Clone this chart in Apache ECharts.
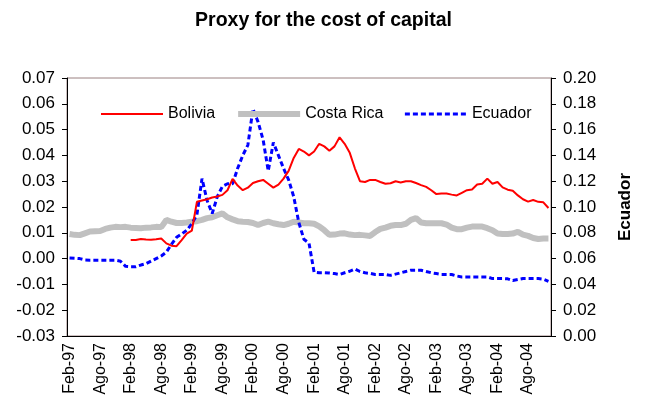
<!DOCTYPE html>
<html>
<head>
<meta charset="utf-8">
<script src="https://cdn.jsdelivr.net/npm/echarts@6/dist/echarts.min.js"></script>
<style>
html, body { margin: 0; padding: 0; background: #fff; }
#chart { width: 647px; height: 414px; }
</style>
</head>
<body>
<div id="chart"></div>
<script>
// monthly labels, Feb-97 .. Dic-04
const monthNames = ['Ene','Feb','Mar','Abr','May','Jun','Jul','Ago','Sep','Oct','Nov','Dic'];
const months = [];
for (let y = 1997; y <= 2004; y++) {
    for (let m = 0; m < 12; m++) {
        if (y === 1997 && m === 0) continue;
        months.push(monthNames[m] + '-' + String(y).slice(2));
    }
}

const leftTicks = [-0.03, 0.07, 0.01];
const rightTicks = [0, 0.20, 0.02];

const bolivia = [
    '-', '-', '-', '-', '-', '-', '-', '-', '-', '-', '-',
    '-', 0.0072, 0.0072, 0.0076, 0.0074, 0.0073, 0.0075, 0.0078, 0.0059, 0.0050, 0.0048, 0.0072,
    0.0097, 0.0108, 0.0220, 0.0225, 0.0230, 0.0237, 0.0241, 0.0247, 0.0265, 0.0309, 0.0283, 0.0265,
    0.0275, 0.0293, 0.0300, 0.0305, 0.0290, 0.0275, 0.0287, 0.0310, 0.0340, 0.0390, 0.0425, 0.0415,
    0.0400, 0.0415, 0.0445, 0.0435, 0.0418, 0.0435, 0.0470, 0.0445, 0.0410, 0.0350, 0.0300, 0.0297,
    0.0305, 0.0305, 0.0297, 0.0290, 0.0292, 0.0300, 0.0295, 0.0300, 0.0300, 0.0293, 0.0285, 0.0278,
    0.0265, 0.0250, 0.0252, 0.0252, 0.0248, 0.0245, 0.0255, 0.0265, 0.0268, 0.0287, 0.0290, 0.0310,
    0.0290, 0.0297, 0.0276, 0.0267, 0.0263, 0.0245, 0.0230, 0.0221, 0.0227, 0.0220, 0.0218, 0.0196
];

const costaRica = [
    0.0095, 0.0092, 0.0091, 0.0098, 0.0105, 0.0106, 0.0107, 0.0115, 0.0120, 0.0123, 0.0122,
    0.0123, 0.0120, 0.0119, 0.0118, 0.0120, 0.0121, 0.0123, 0.0122, 0.0150, 0.0143, 0.0138, 0.0138,
    0.0140, 0.0143, 0.0145, 0.0150, 0.0157, 0.0160, 0.0168, 0.0175, 0.0160, 0.0152, 0.0145, 0.0143,
    0.0142, 0.0138, 0.0130, 0.0138, 0.0143, 0.0137, 0.0133, 0.0130, 0.0135, 0.0143, 0.0140, 0.0137,
    0.0137, 0.0135, 0.0125, 0.0110, 0.0092, 0.0093, 0.0097, 0.0098, 0.0093, 0.0091, 0.0092, 0.0090,
    0.0088, 0.0103, 0.0115, 0.0120, 0.0127, 0.0130, 0.0130, 0.0135, 0.0150, 0.0157, 0.0140, 0.0137,
    0.0137, 0.0137, 0.0137, 0.0132, 0.0120, 0.0114, 0.0114, 0.0120, 0.0124, 0.0124, 0.0124, 0.0118,
    0.0110, 0.0097, 0.0095, 0.0095, 0.0097, 0.0104, 0.0093, 0.0088, 0.0080, 0.0076, 0.0078, 0.0078
];

const ecuador = [
    0.0605, 0.0603, 0.0600, 0.0590, 0.0588, 0.0588, 0.0588, 0.0588, 0.0588, 0.0588, 0.0580,
    0.0540, 0.0537, 0.0537, 0.0550, 0.0560, 0.0580, 0.0600, 0.0620, 0.0650, 0.0710, 0.0765, 0.0790,
    0.0820, 0.0870, 0.0940, 0.1220, 0.1050, 0.0950, 0.1080, 0.1160, 0.1180, 0.1180, 0.1300, 0.1400,
    0.1480, 0.1760, 0.1660, 0.1520, 0.1280, 0.1500, 0.1400, 0.1300, 0.1210, 0.1080, 0.0880, 0.0750,
    0.0720, 0.0495, 0.0490, 0.0490, 0.0488, 0.0484, 0.0477, 0.0490, 0.0502, 0.0520, 0.0500, 0.0490,
    0.0485, 0.0477, 0.0477, 0.0477, 0.0470, 0.0480, 0.0490, 0.0500, 0.0510, 0.0510, 0.0510, 0.0500,
    0.0490, 0.0484, 0.0477, 0.0477, 0.0477, 0.0465, 0.0458, 0.0458, 0.0458, 0.0458, 0.0458, 0.0458,
    0.0445, 0.0445, 0.0445, 0.0443, 0.0430, 0.0438, 0.0445, 0.0445, 0.0445, 0.0445, 0.0440, 0.0424
];

const font = '"Liberation Sans", Arial, sans-serif';

const option = {
    animation: false,
    backgroundColor: '#fff',
    textStyle: { fontFamily: font },
    title: {
        text: 'Proxy for the cost of capital',
        left: 'center',
        top: 6,
        textStyle: { fontFamily: font, fontSize: 19.5, fontWeight: 'bold', color: '#000' }
    },
    legend: {
        left: 95,
        top: 101,
        itemWidth: 62,
        itemHeight: 18,
        itemGap: 20,
        itemStyle: { opacity: 0 },
        textStyle: { fontFamily: font, fontSize: 16, color: '#000' },
        data: [
            { name: 'Bolivia', lineStyle: { width: 2 } },
            { name: 'Costa Rica', lineStyle: { width: 6 } },
            { name: 'Ecuador', lineStyle: { width: 3 } }
        ]
    },
    grid: {
        left: 67,
        right: 96,
        top: 78,
        bottom: 78,
        show: true,
        borderColor: '#9a8080',
        borderWidth: 1
    },
    xAxis: {
        type: 'category',
        boundaryGap: true,
        data: months,
        axisLine: { onZero: false, lineStyle: { color: '#000', width: 1 } },
        axisTick: { interval: 5, length: 5, lineStyle: { color: '#000' } },
        axisLabel: {
            interval: 5,
            rotate: 90,
            margin: 7,
            color: '#000',
            fontFamily: font,
            fontSize: 16
        },
        splitLine: { show: false }
    },
    yAxis: [
        {
            type: 'value',
            min: leftTicks[0],
            max: leftTicks[1],
            interval: leftTicks[2],
            axisLine: { show: true, lineStyle: { color: '#000' } },
            axisTick: { show: true, length: 5, lineStyle: { color: '#000' } },
            axisLabel: {
                margin: 12,
                color: '#000',
                fontFamily: font,
                fontSize: 17,
                formatter: v => v.toFixed(2)
            },
            splitLine: { show: false }
        },
        {
            type: 'value',
            position: 'right',
            min: rightTicks[0],
            max: rightTicks[1],
            interval: rightTicks[2],
            name: 'Ecuador',
            nameLocation: 'middle',
            nameRotate: 90,
            nameGap: 66,
            nameTextStyle: { fontFamily: font, fontSize: 17, fontWeight: 'bold', color: '#000' },
            axisLine: { show: true, lineStyle: { color: '#000' } },
            axisTick: { show: true, length: 5, lineStyle: { color: '#000' } },
            axisLabel: {
                margin: 12,
                color: '#000',
                fontFamily: font,
                fontSize: 17,
                formatter: v => v.toFixed(2)
            },
            splitLine: { show: false }
        }
    ],
    series: [
        {
            name: 'Bolivia',
            type: 'line',
            yAxisIndex: 0,
            data: bolivia,
            symbol: 'none',
            color: '#ff0000',
            lineStyle: { color: '#ff0000', width: 2 },
            z: 4
        },
        {
            name: 'Costa Rica',
            type: 'line',
            yAxisIndex: 0,
            data: costaRica,
            symbol: 'none',
            color: '#c0c0c0',
            lineStyle: { color: '#c0c0c0', width: 6 },
            z: 2
        },
        {
            name: 'Ecuador',
            type: 'line',
            yAxisIndex: 1,
            data: ecuador,
            symbol: 'none',
            color: '#0000ff',
            lineStyle: { color: '#0000ff', width: 3, type: [5, 3], cap: 'butt' },
            z: 3
        }
    ]
};

const chart = echarts.init(document.getElementById('chart'));
chart.setOption(option);
</script>
</body>
</html>
